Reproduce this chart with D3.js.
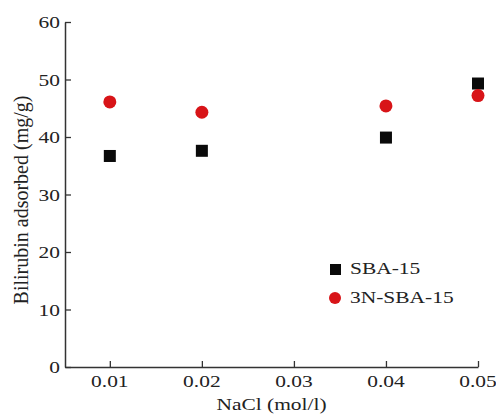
<!DOCTYPE html>
<html>
<head>
<meta charset="utf-8">
<script src="https://cdn.jsdelivr.net/npm/d3@7"></script>
<style>
  body { margin: 0; background: #fff; }
  text { font-family: "Liberation Serif", "Times New Roman", serif; fill: #222; }
</style>
</head>
<body>
<script>
// data
var nacl = [0.01, 0.02, 0.04, 0.05];
var sba15 = [36.7, 37.6, 39.9, 49.3];
var n3sba15 = [46.1, 44.3, 45.4, 47.2];
var xTicks = [0.01, 0.02, 0.03, 0.04, 0.05];
var yTicks = [0, 10, 20, 30, 40, 50, 60];

// the source image is stretched a bit horizontally
var sx = 1.3, fs = 16.5;

// margin
var margin = {top: 22, right: 18, bottom: 47, left: 65},
    width = 496 - margin.left - margin.right,
    height = 414 - margin.top - margin.bottom;

var svg = d3.select("body").append("svg")
    .attr("width", 496)
    .attr("height", 414)
  .append("g")
    .attr("transform", "translate(" + margin.left + "," + margin.top + ")");

var x = d3.scaleLinear().domain([0.00513, 0.05]).range([0, width]);
var y = d3.scaleLinear().domain([0, 60]).range([height, 0]);

// stretched horizontal label
function label(g, px, py, str, anchor) {
  return g.append("text")
    .attr("transform", "translate(" + px + "," + py + ") scale(" + sx + ",1)")
    .attr("text-anchor", anchor || "start")
    .style("font-size", fs + "px")
    .text(str);
}

// axes with inner ticks
var xAxis = svg.append("g")
    .attr("transform", "translate(0," + height + ")")
    .call(d3.axisBottom(x).tickValues(xTicks).tickSizeInner(-6).tickSizeOuter(0)
      .tickFormat(""));

var yAxis = svg.append("g")
    .call(d3.axisLeft(y).tickValues(yTicks).tickSizeInner(-6).tickSizeOuter(0)
      .tickFormat(""));

[xAxis, yAxis].forEach(function(a) {
  a.select(".domain").attr("stroke", "#333").attr("stroke-width", 1.5);
  a.selectAll(".tick line").attr("stroke", "#333").attr("stroke-width", 1.3);
});

// tick labels
xTicks.forEach(function(t) { label(svg, x(t), height + 20, d3.format(".2f")(t), "middle"); });
yTicks.forEach(function(t) { label(svg, -5, y(t) + 6, t, "end"); });

// axis titles
label(svg, 271.5 - margin.left, height + 43, "NaCl (mol/l)", "middle");

svg.append("text")
    .attr("transform", "rotate(-90)")
    .attr("x", -(200 - margin.top))
    .attr("y", 28 - margin.left)
    .attr("text-anchor", "middle")
    .style("font-size", "20px")
    .text("Bilirubin adsorbed (mg/g)");

// points
svg.selectAll(".sq").data(nacl).enter().append("rect")
    .attr("x", function(d) { return x(d) - 6; })
    .attr("y", function(d, i) { return y(sba15[i]) - 6; })
    .attr("width", 12).attr("height", 12)
    .attr("fill", "#0a0a0a");

svg.selectAll(".ci").data(nacl).enter().append("circle")
    .attr("cx", function(d) { return x(d); })
    .attr("cy", function(d, i) { return y(n3sba15[i]); })
    .attr("r", 6.5)
    .attr("fill", "#d81418");

// legend
var legend = svg.append("g").attr("transform", "translate(" + (335 - margin.left) + "," + (269 - margin.top) + ")");
legend.append("rect").attr("x", -5).attr("y", -5).attr("width", 11).attr("height", 11).attr("fill", "#0a0a0a");
label(legend, 15, 5, "SBA-15");
legend.append("circle").attr("cx", 0).attr("cy", 29).attr("r", 6).attr("fill", "#d81418");
label(legend, 15, 34, "3N-SBA-15");
</script>
</body>
</html>
